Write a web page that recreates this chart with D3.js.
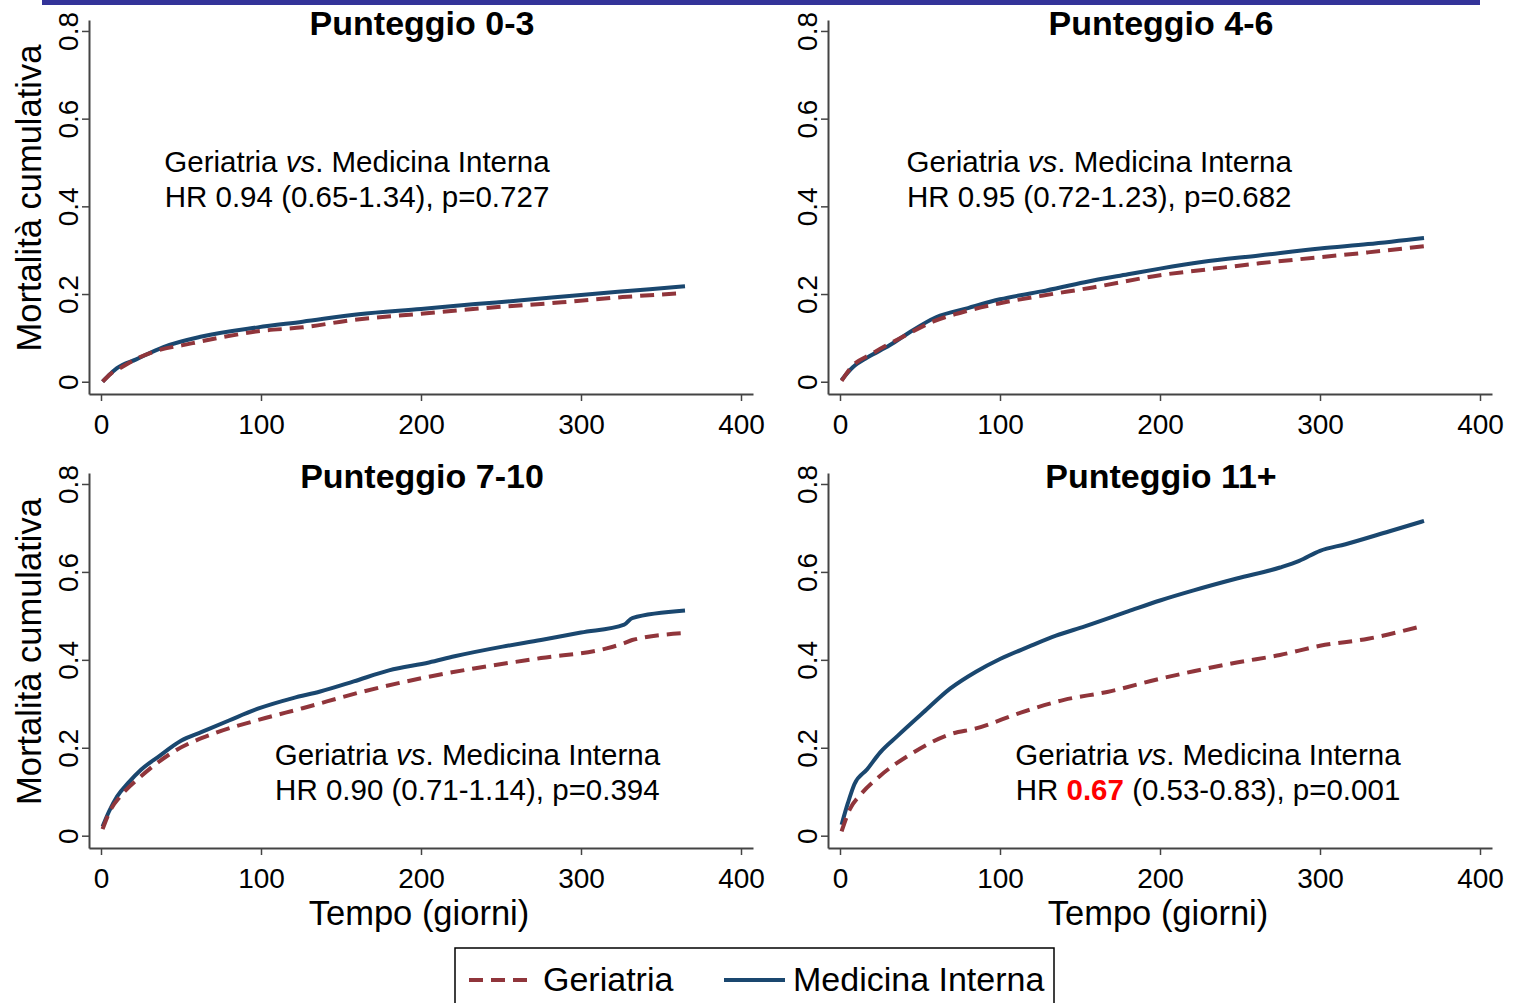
<!DOCTYPE html>
<html>
<head>
<meta charset="utf-8">
<script src="https://cdn.jsdelivr.net/npm/d3@7"></script>
<style>
	body { margin: 0; background: #fff; }
	svg { display: block; font-family: "Liberation Sans", Arial, sans-serif; }
</style>
</head>
<body>
<svg id="chart" width="1513" height="1003"></svg>
<script>

// cumulative mortality, [day, value]
var p03_geriatria = [[1,0.0],[6,0.018],[12,0.031],[22,0.052],[35,0.071],[52,0.084],[75,0.101],[98,0.115],[126,0.124],[158,0.141],[200,0.155],[240,0.168],[288,0.181],[326,0.193],[363,0.202]];
var p03_medicina = [[1,0.0],[5,0.015],[10,0.031],[22,0.051],[39,0.079],[63,0.103],[98,0.124],[126,0.137],[161,0.154],[200,0.166],[234,0.177],[261,0.185],[300,0.198],[343,0.211],[365,0.218]];

var p46_geriatria = [[1,0.002],[7,0.033],[20,0.064],[39,0.102],[58,0.137],[80,0.162],[100,0.179],[126,0.196],[158,0.215],[200,0.243],[234,0.258],[262,0.270],[300,0.284],[330,0.295],[365,0.309]];
var p46_medicina = [[1,0.004],[8,0.033],[17,0.055],[31,0.083],[44,0.114],[60,0.147],[80,0.168],[100,0.188],[126,0.206],[153,0.227],[180,0.245],[200,0.258],[226,0.273],[262,0.288],[300,0.304],[330,0.314],[365,0.328]];

var p710_geriatria = [[1,0.015],[6,0.059],[12,0.089],[25,0.135],[44,0.188],[71,0.233],[99,0.264],[126,0.290],[164,0.328],[200,0.358],[234,0.381],[275,0.404],[316,0.426],[327,0.438],[332,0.445],[365,0.461]];
var p710_medicina = [[1,0.021],[5,0.055],[10,0.089],[17,0.120],[25,0.150],[36,0.180],[50,0.216],[63,0.236],[80,0.262],[99,0.290],[120,0.313],[137,0.328],[158,0.351],[180,0.376],[205,0.394],[221,0.408],[251,0.430],[275,0.445],[300,0.462],[327,0.480],[332,0.495],[365,0.512]];

var p11_geriatria = [[1,0.010],[6,0.059],[13,0.094],[25,0.136],[44,0.185],[69,0.231],[85,0.244],[113,0.280],[140,0.309],[167,0.327],[200,0.357],[221,0.374],[248,0.394],[275,0.411],[300,0.432],[330,0.448],[365,0.478]];
var p11_medicina = [[1,0.025],[5,0.075],[9,0.117],[17,0.151],[25,0.189],[36,0.227],[52,0.280],[69,0.335],[85,0.373],[100,0.402],[118,0.430],[135,0.455],[153,0.476],[180,0.510],[200,0.535],[221,0.558],[248,0.585],[275,0.610],[287,0.625],[300,0.648],[316,0.663],[343,0.692],[365,0.716]];

var panel_titles = ["Punteggio 0-3", "Punteggio 4-6", "Punteggio 7-10", "Punteggio 11+"];
var hr_labels = [
	["HR ", "0.94", " (0.65-1.34), p=0.727"],
	["HR ", "0.95", " (0.72-1.23), p=0.682"],
	["HR ", "0.90", " (0.71-1.14), p=0.394"],
	["HR ", "0.67", " (0.53-0.83), p=0.001"]
];
var hr_significant = [false, false, false, true];
var x_ticks = [0, 100, 200, 300, 400];
var y_ticks = [0, 0.2, 0.4, 0.6, 0.8];
var y_tick_labels = ["0", "0.2", "0.4", "0.6", "0.8"];
var series_names = ["Geriatria", "Medicina Interna"];

var geriatria = [p03_geriatria, p46_geriatria, p710_geriatria, p11_geriatria];
var medicina = [p03_medicina, p46_medicina, p710_medicina, p11_medicina];

var colRed = "#90353b",
	colBlue = "#1a476f",
	dash = "14,8";

var svg = d3.select("#chart");

// top band
svg.append("rect")
	.attr("x", 42).attr("y", 0)
	.attr("width", 1438).attr("height", 5)
	.attr("fill", "#333399");

// panel frames: x range, y range, annotation pos (in data units)
var frames = [
	{ x0: 89, x1: 753, y0: 394, y1: 20, ann: [160, 0.478], left: true, bottom: false },
	{ x0: 828, x1: 1492, y0: 394, y1: 20, ann: [162, 0.478], left: false, bottom: false },
	{ x0: 89, x1: 753, y0: 848, y1: 473, ann: [229, 0.160], left: true, bottom: true },
	{ x0: 828, x1: 1492, y0: 848, y1: 473, ann: [230, 0.160], left: false, bottom: true }
];

frames.forEach(function(f, i) {
	var x = d3.scaleLinear().domain([-7.5, 407.5]).range([f.x0, f.x1]);
	var y = d3.scaleLinear().domain([-0.028, 0.825]).range([f.y0, f.y1]);
	var g = svg.append("g");

	var xAxis = g.append("g")
		.attr("transform", "translate(0," + f.y0 + ")")
		.call(d3.axisBottom(x).tickValues(x_ticks).tickSize(7).tickSizeOuter(0).tickPadding(6));
	var yAxis = g.append("g")
		.attr("transform", "translate(" + f.x0 + ",0)")
		.call(d3.axisLeft(y).tickValues(y_ticks).tickSize(7).tickSizeOuter(0)
			.tickFormat(function(d, k) { return y_tick_labels[k]; }));

	[xAxis, yAxis].forEach(function(a) {
		a.select(".domain").attr("stroke", "#444").attr("stroke-width", 2);
		a.selectAll(".tick line").attr("stroke", "#444").attr("stroke-width", 1.5);
		a.selectAll("text").attr("fill", "#000").style("font-size", "28px").attr("font-family", null);
	});
	xAxis.selectAll("text").attr("dy", "0.95em");
	yAxis.selectAll("text")
		.attr("transform", "rotate(-90)")
		.attr("x", 0).attr("y", -11).attr("dy", 0)
		.attr("text-anchor", "middle");

	var line = d3.line()
		.curve(d3.curveMonotoneX)
		.x(function(d) { return x(d[0]); })
		.y(function(d) { return y(d[1]); });

	g.append("path")
		.datum(medicina[i])
		.attr("d", line)
		.attr("fill", "none")
		.attr("stroke", colBlue)
		.attr("stroke-width", 4);
	g.append("path")
		.datum(geriatria[i])
		.attr("d", line)
		.attr("fill", "none")
		.attr("stroke", colRed)
		.attr("stroke-width", 4)
		.attr("stroke-dasharray", dash);

	// title
	g.append("text")
		.attr("x", x(200) + 1).attr("y", f.y1 + 15)
		.attr("text-anchor", "middle")
		.style("font-size", "34px").style("font-weight", "bold")
		.text(panel_titles[i]);

	// annotation
	var ax = x(f.ann[0]), ay = y(f.ann[1]);
	var t1 = g.append("text")
		.attr("x", ax).attr("y", ay)
		.attr("text-anchor", "middle")
		.style("font-size", "29.5px");
	t1.append("tspan").text("Geriatria ");
	t1.append("tspan").style("font-style", "italic").text("vs");
	t1.append("tspan").text(". Medicina Interna");

	var t2 = g.append("text")
		.attr("x", ax).attr("y", ay + 35)
		.attr("text-anchor", "middle")
		.style("font-size", "29.5px");
	t2.append("tspan").text(hr_labels[i][0]);
	t2.append("tspan")
		.attr("fill", hr_significant[i] ? "#ff0000" : "#000")
		.style("font-weight", hr_significant[i] ? "bold" : "normal")
		.text(hr_labels[i][1]);
	t2.append("tspan").text(hr_labels[i][2]);

	if (f.left) {
		g.append("text")
			.attr("transform", "translate(41," + ((f.y0 + f.y1) / 2 - 9) + ") rotate(-90)")
			.attr("text-anchor", "middle")
			.style("font-size", "34.5px")
			.text("Mortalità cumulativa");
	}
	if (f.bottom) {
		g.append("text")
			.attr("x", x(200) - 2).attr("y", f.y0 + 77)
			.attr("text-anchor", "middle")
			.style("font-size", "34.5px")
			.text("Tempo (giorni)");
	}
});

// legend
var legend = svg.append("g");
legend.append("rect")
	.attr("x", 455).attr("y", 948)
	.attr("width", 599).attr("height", 70)
	.attr("fill", "none").attr("stroke", "#000").attr("stroke-width", 1.5);

var legendItems = [
	{ x: 469, color: colRed, dash: dash, name: series_names[0], tx: 543 },
	{ x: 724, color: colBlue, dash: null, name: series_names[1], tx: 793 }
];
legendItems.forEach(function(d) {
	legend.append("line")
		.attr("x1", d.x).attr("x2", d.x + 61)
		.attr("y1", 980).attr("y2", 980)
		.attr("stroke", d.color).attr("stroke-width", 4)
		.attr("stroke-dasharray", d.dash);
	legend.append("text")
		.attr("x", d.tx).attr("y", 991)
		.style("font-size", "34px")
		.text(d.name);
});

</script>
</body>
</html>
